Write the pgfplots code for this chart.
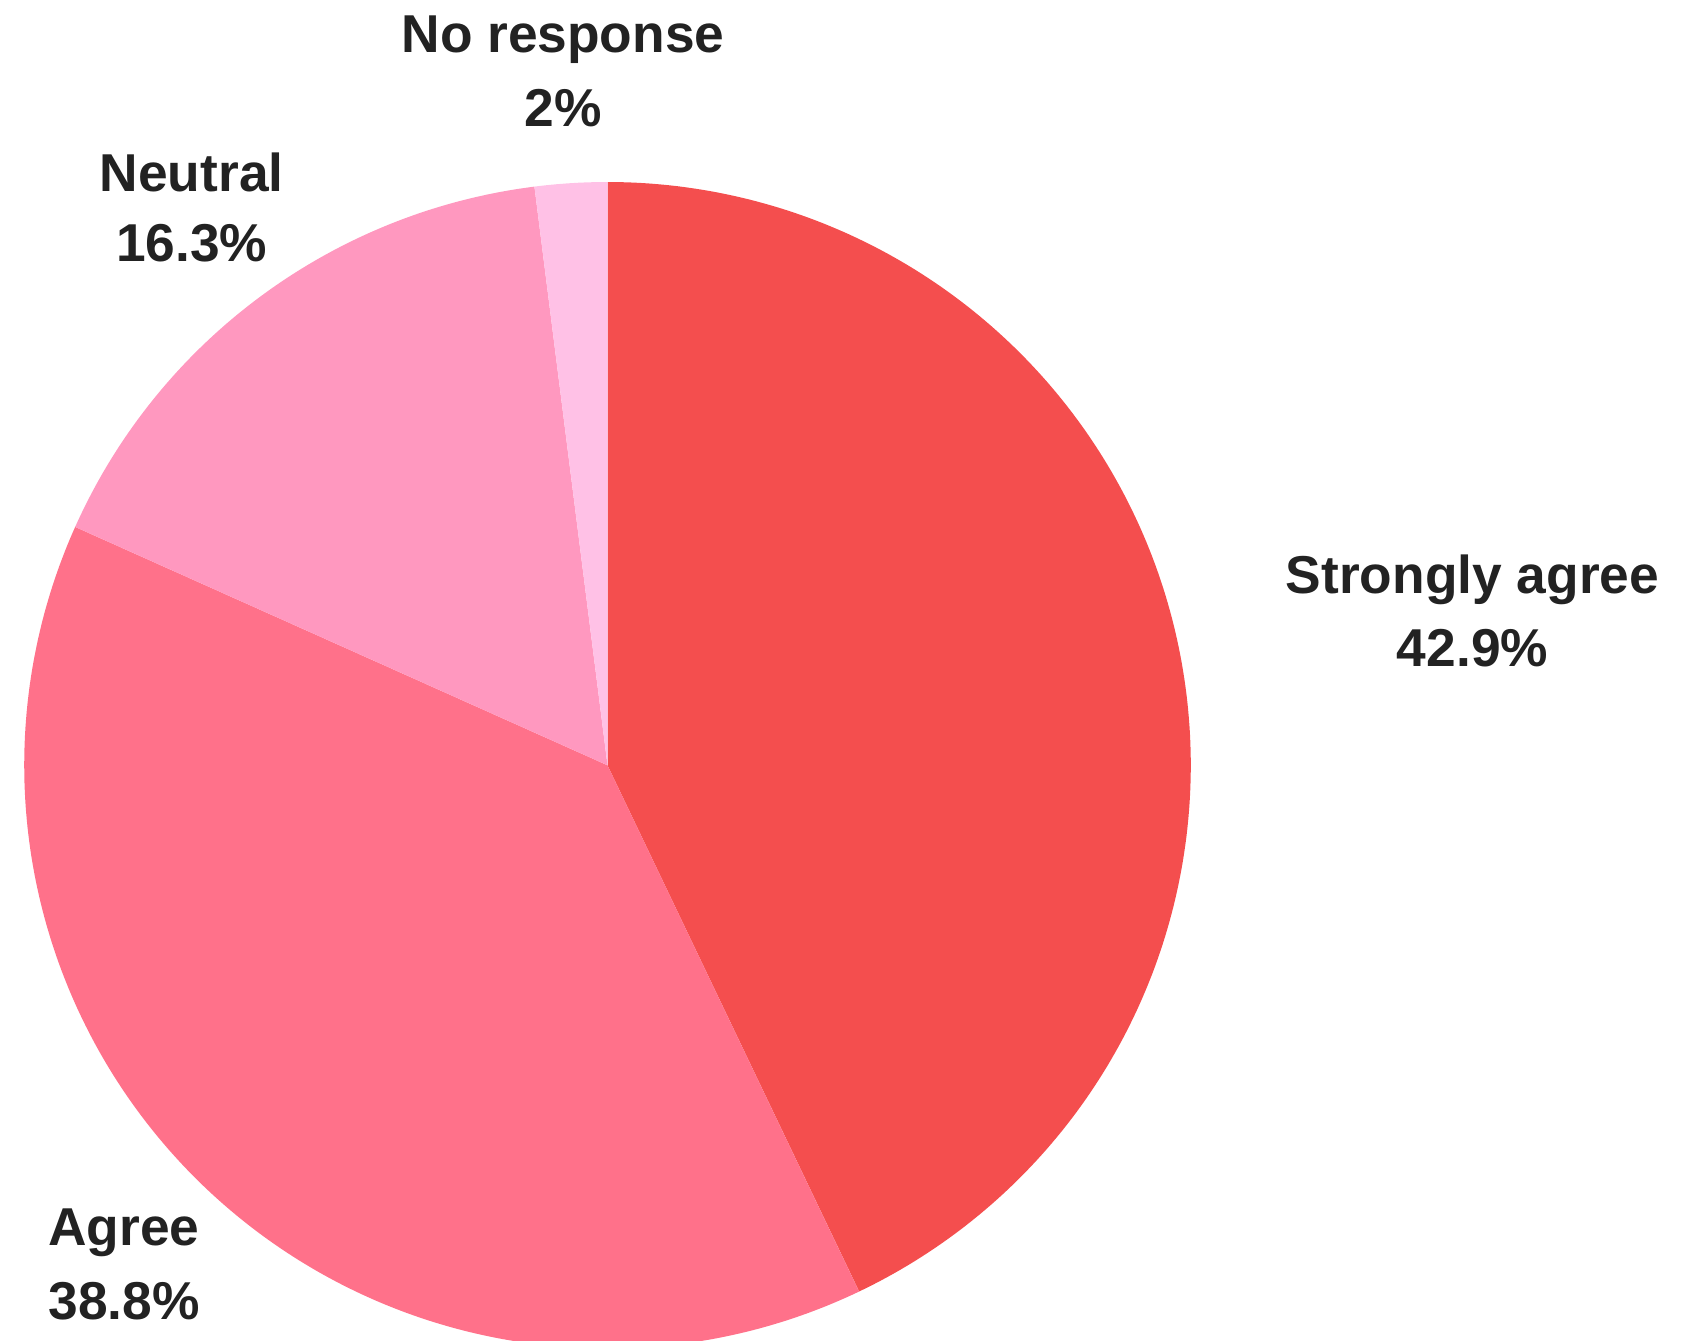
\documentclass[border=0pt]{standalone}
\usepackage{pgfplots}
\pgfplotsset{compat=1.18}
\usepackage{fontspec}
\setmainfont{Liberation Sans}
\definecolor{cSA}{HTML}{F44E4E}
\definecolor{cAG}{HTML}{FF718A}
\definecolor{cNE}{HTML}{FF98BF}
\definecolor{cNR}{HTML}{FFC1E6}
\definecolor{txt}{HTML}{222222}
\tikzset{lbl/.style={font=\fontsize{16}{19}\selectfont\bfseries, text=txt, anchor=base, inner sep=0pt, outer sep=0pt}}
% shares in percent
\def\pSA{42.9}
\def\pAG{38.8}
\def\pNE{16.3}
\def\pNR{2}
\begin{document}
\begin{tikzpicture}
\pgfmathsetmacro\aA{90}
\pgfmathsetmacro\aB{90-3.6*\pSA}
\pgfmathsetmacro\aC{\aB-3.6*\pAG}
\pgfmathsetmacro\aD{\aC-3.6*\pNE}
\pgfmathsetmacro\aE{\aD-3.6*\pNR}
\begin{axis}[
  x=175.03pt, y=175.03pt,
  xmin=-1.0415, xmax=1.8438,
  ymin=-0.9853, ymax=1.3120,
  hide axis,
  clip=true,
]
\addplot[fill=cSA, draw=none, domain=\aB:\aA, samples=200] ({cos(x)},{sin(x)}) -- (axis cs:0,0) -- cycle;
\addplot[fill=cAG, draw=none, domain=\aC:\aB, samples=200] ({cos(x)},{sin(x)}) -- (axis cs:0,0) -- cycle;
\addplot[fill=cNE, draw=none, domain=\aD:\aC, samples=100] ({cos(x)},{sin(x)}) -- (axis cs:0,0) -- cycle;
\addplot[fill=cNR, draw=none, domain=\aE:\aD, samples=30] ({cos(x)},{sin(x)}) -- (axis cs:0,0) -- cycle;
\node[lbl] at (axis cs:1.4829,0.2949) {Strongly agree};
\node[lbl] at (axis cs:1.4829,0.1690) {42.9\%};
\node[lbl] at (axis cs:-0.8289,-0.8224) {Agree};
\node[lbl] at (axis cs:-0.8289,-0.9498) {38.8\%};
\node[lbl] at (axis cs:-0.7129,0.9834) {Neutral};
\node[lbl] at (axis cs:-0.7129,0.8634) {16.3\%};
\node[lbl] at (axis cs:-0.0763,1.2212) {No response};
\node[lbl] at (axis cs:-0.0763,1.0943) {2\%};
\end{axis}
\pgfresetboundingbox
\useasboundingbox (current axis.south west) rectangle (current axis.north east);
\end{tikzpicture}
\end{document}
